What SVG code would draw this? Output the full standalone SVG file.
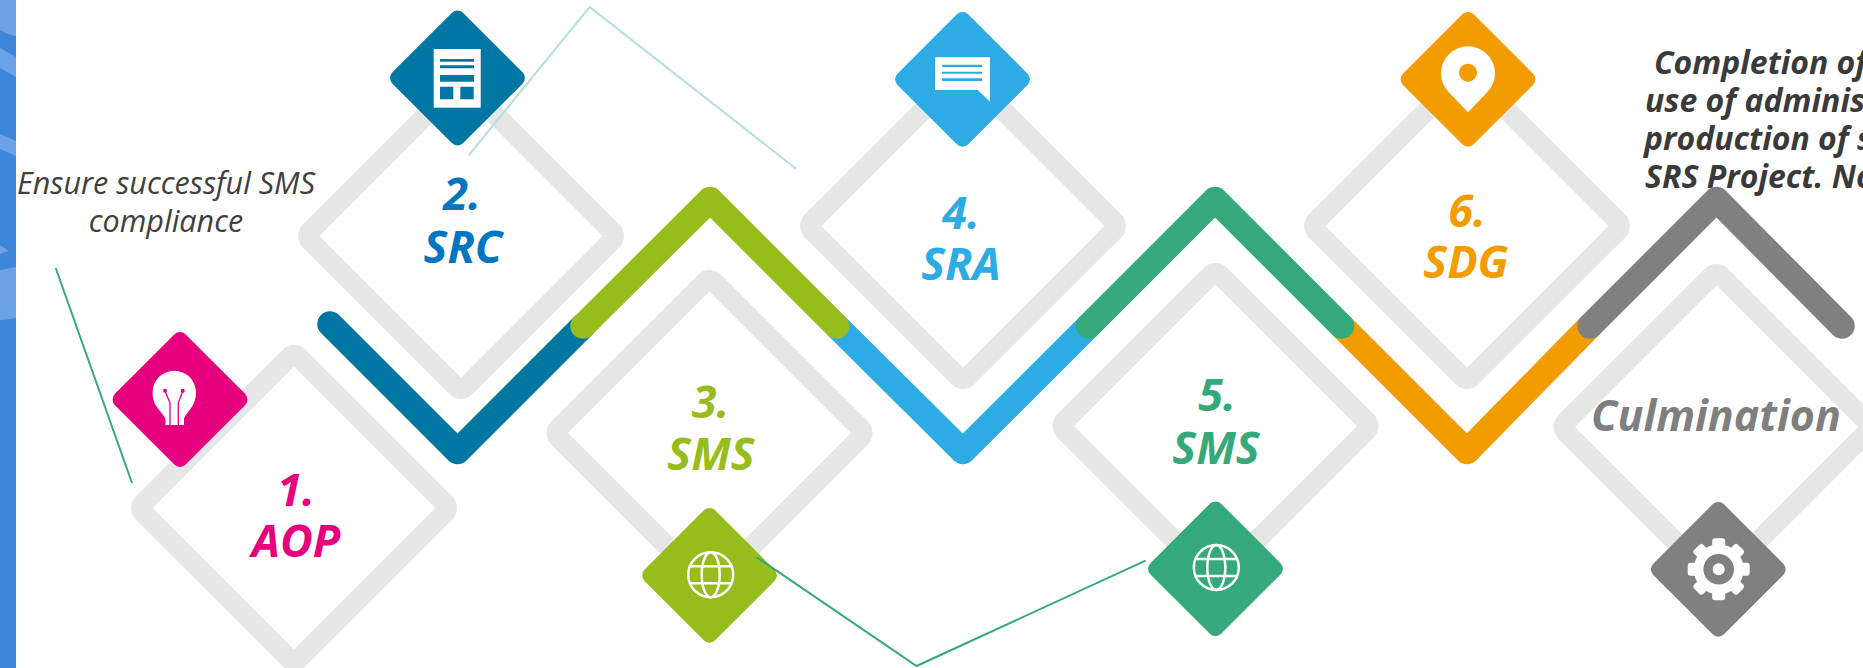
<svg xmlns="http://www.w3.org/2000/svg" width="1863" height="668" viewBox="0 0 1863 668">
<style>
.ring{fill:#e6e6e6;fill-rule:evenodd}
.chev{fill:none;stroke-width:25.500;stroke-linejoin:round;stroke-linecap:round}
.thin{fill:none;stroke-width:2}
.lab{font-family:"Open Sans","Noto Sans",sans-serif;font-weight:700;font-style:italic;font-size:45px;text-anchor:middle}
.note{font-family:"Open Sans","Noto Sans",sans-serif;font-style:italic;font-size:30.500px;fill:#404040}
.w{fill:none;stroke:#fff;stroke-width:2.500}
</style>
<defs>
<rect id="d" x="-50" y="-50" width="100" height="100" rx="8" transform="rotate(45)"/>
<path id="r" class="ring" d="M-11.700-158.100A16.500 16.500 0 0 1 11.700-158.100L158.100-11.700A16.500 16.500 0 0 1 158.100 11.700L11.700 158.100A16.500 16.500 0 0 1-11.700 158.100L-158.100 11.700A16.500 16.500 0 0 1-158.100-11.700ZM0-141.500L-141.500 0L0 141.500L141.500 0Z"/>
<g id="globe" class="w"><circle r="22.500"/><ellipse rx="9" ry="22.500"/><path d="M-20-8.500H20M-20 8.500H20"/></g>
</defs>
<g id="strip">
<rect width="16" height="668" fill="#3c87dc"/>
<path d="M0 0H16V36Q8 35 0 30ZM0 48L16 57V77L0 68ZM0 134L16 141V156L0 149ZM0 245L9 251L0 254ZM0 270L16 267V318Q8 320 0 320Z" fill="#6ba3e6"/>
</g>
<g id="completion-note" class="note" style="font-weight:700;fill:#3a3a3a;font-size:32px">
<text x="1654" y="74">Completion of</text>
<text x="1645" y="112">use of adminis</text>
<text x="1644" y="150">production of s</text>
<text x="1645" y="188">SRS Project. No</text>
</g>
<g id="node-1"><use href="#r" x="294" y="508"/><use href="#d" x="180" y="399.500" fill="#e6007e"/>
<path d="M165.500 425V419C163 412 152.500 407 152.500 392.500A21.700 21.700 0 0 1 196 392.500C196 407 186 412 184 419V425Z" fill="#fff"/>
<path d="M165 391L170 403V425M182.700 391L178.300 403V425" fill="none" stroke="#e6007e" stroke-width="1.300"/><circle cx="165" cy="390.700" r="2" fill="#e6007e"/><circle cx="182.700" cy="390.700" r="2" fill="#e6007e"/>
<text class="lab" fill="#e6007e" x="296" y="506">1.</text><text class="lab" fill="#e6007e" x="296" y="557">AOP</text></g>
<g id="node-2"><use href="#r" x="461" y="236"/></g>
<g id="node-3"><use href="#r" x="709.500" y="433"/></g>
<g id="node-4"><use href="#r" x="963" y="226"/></g>
<g id="node-5"><use href="#r" x="1215.500" y="426"/></g>
<g id="node-6"><use href="#r" x="1467" y="226"/></g>
<g id="node-culmination"><use href="#r" x="1716.500" y="427"/></g>
<g id="connectors">
<path class="chev" stroke="#0076a3" d="M330 324L457.500 451.500L583 326"/>
<path class="chev" stroke="#2cabe5" d="M836.500 326L962.800 451.500L1088.600 326"/>
<path class="chev" stroke="#f39c00" d="M1341.500 326L1467 451.500L1590 326"/>
<path class="chev" stroke="#97bd1d" d="M583 326L710 199.600L836.500 326"/>
<path class="chev" stroke="#36a97b" d="M1088.600 326L1215 199.600L1341.500 326"/>
<path class="chev" stroke="#808080" d="M1590 326L1716.500 199.600L1842 326"/>
</g>
<g id="icon-2"><use href="#d" x="457.500" y="78" fill="#0076a3"/>
<rect x="433.700" y="49" width="47" height="58.700" fill="#fff"/>
<path d="M440 59h34v2.700h-34zM440 65.300h34v3h-34zM440 75h34v6.700h-34zM440 86.700h13.300v12.600h-13.300zM460.300 86.700h13.400v12.600h-13.400z" fill="#0076a3"/></g>
<g id="icon-3"><use href="#d" x="709.500" y="575.300" fill="#97bd1d"/><use href="#globe" x="710.700" y="574.700"/></g>
<g id="icon-4"><use href="#d" x="962.500" y="79.300" fill="#2cabe5"/>
<path d="M935 57.300H990V101.700L977.700 90H935Z" fill="#fff"/>
<path d="M942 64.700h40v2.300h-40zM942 71.700h40v2h-40zM942 78.300h40v2.700h-40z" fill="#2cabe5"/></g>
<g id="icon-5"><use href="#d" x="1215.500" y="568.800" fill="#36a97b"/><use href="#globe" x="1216.300" y="567.500"/></g>
<g id="icon-6"><use href="#d" x="1468" y="79.300" fill="#f39c00"/>
<path d="M1468 112.300L1449 92.500A27 27 0 1 1 1487 92.500Z" fill="#fff"/><circle cx="1468" cy="72.700" r="9" fill="#f39c00"/></g>
<g id="icon-culmination"><use href="#d" x="1718.300" y="569.300" fill="#808080"/>
<g transform="translate(1718.700 569.300)" fill="#fff">
<circle r="25"/>
<rect x="-6.500" y="-31" width="13" height="62" rx="3"/><rect x="-6.500" y="-31" width="13" height="62" rx="3" transform="rotate(45)"/><rect x="-6.500" y="-31" width="13" height="62" rx="3" transform="rotate(90)"/><rect x="-6.500" y="-31" width="13" height="62" rx="3" transform="rotate(135)"/>
<circle r="15.300" fill="#808080"/><circle r="6"/></g></g>
<g id="labels">
<text class="lab" fill="#0076c0" x="462" y="210">2.</text><text class="lab" fill="#0076c0" x="463" y="263">SRC</text>
<text class="lab" fill="#97bd1d" x="710.500" y="418">3.</text><text class="lab" fill="#97bd1d" x="711" y="470">SMS</text>
<text class="lab" fill="#2cabe5" x="961" y="229">4.</text><text class="lab" fill="#2cabe5" x="961" y="280">SRA</text>
<text class="lab" fill="#36a97b" x="1217" y="411">5.</text><text class="lab" fill="#36a97b" x="1216" y="463.500">SMS</text>
<text class="lab" fill="#f39c00" x="1467" y="227">6.</text><text class="lab" fill="#f39c00" x="1466" y="278">SDG</text>
<text class="lab" fill="#7f7f7f" x="1716" y="431" style="font-size:43px">Culmination</text>
</g>
<g id="ensure-note" class="note" text-anchor="middle"><text x="166" y="194">Ensure successful SMS</text><text x="166" y="232">compliance</text></g>
<g id="thin-lines">
<path class="thin" stroke="#36a97b" d="M55.700 268L132 483"/>
<path class="thin" stroke="#b5dfe6" d="M468.600 155.500L589.600 7L796 168.700"/>
<path class="thin" stroke="#36a97b" d="M756.400 557L916.600 666L1145.500 560.700"/>
</g>
</svg>
